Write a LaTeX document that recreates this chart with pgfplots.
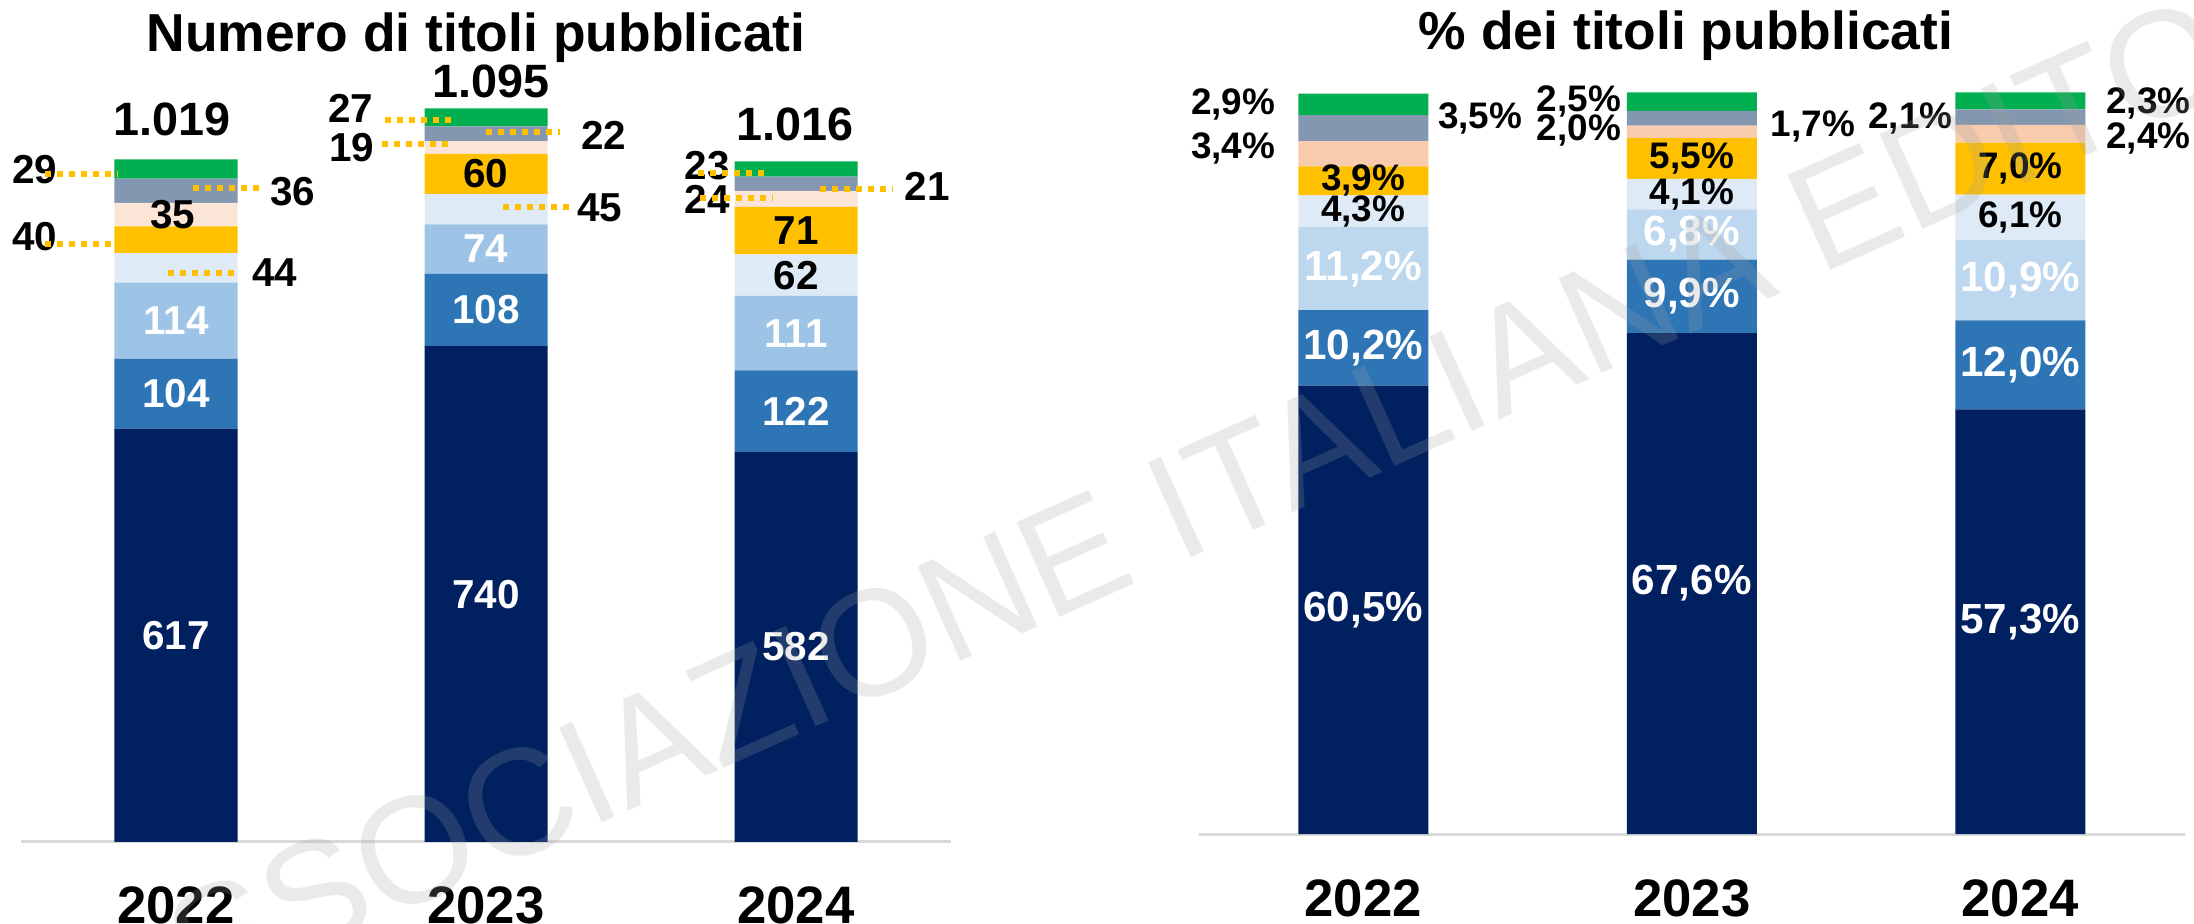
\documentclass[border=0pt]{standalone}
\usepackage{fontspec}
\setmainfont{Liberation Sans}
\usepackage{pgfplots}
\usepackage{pgfplotstable}
\pgfplotsset{compat=1.18}

\definecolor{cNavy}{HTML}{002060}
\definecolor{cMid}{HTML}{2E75B6}
\definecolor{cLight}{HTML}{9DC3E6}
\definecolor{cLightR}{HTML}{BDD7EE}
\definecolor{cPale}{HTML}{DEEBF7}
\definecolor{cGold}{HTML}{FFC000}
\definecolor{cPeach}{HTML}{FBE5D6}
\definecolor{cPeachR}{HTML}{F8CBAD}
\definecolor{cGrey}{HTML}{8497B0}
\definecolor{cGreen}{HTML}{00B050}
\definecolor{cAxis}{HTML}{D9D9D9}
\definecolor{wm}{RGB}{160,160,160}

\newcommand{\fL}{\fontsize{11.5}{13}\selectfont\bfseries}
\newcommand{\fT}{\fontsize{13.3}{15}\selectfont\bfseries}
\newcommand{\fBig}{\fontsize{12}{14}\selectfont\bfseries}
\newcommand{\fSm}{\fontsize{10.5}{12}\selectfont\bfseries}
\newcommand{\fY}{\fontsize{15}{17}\selectfont\bfseries}
\newcommand{\fTitle}{\fontsize{15.2}{18}\selectfont\bfseries}

% left chart: number of titles (dx, dy = label offset in reference pixels)
\pgfplotstableread{
x y lab dx dy
0 617 617 0 0
1 740 740 0 0
2 582 582 0 0
}\LnA
\pgfplotstableread{
x y lab dx dy
0 104 104 0 0
1 108 108 0 0
2 122 122 0 0
}\LnB
\pgfplotstableread{
x y lab dx dy
0 114 114 0 0
1 74 74 0 0
2 111 111 0 0
}\LnC
\pgfplotstableread{
x y lab dx dy
0 44 44 99 -5
1 45 45 114 1
2 62 62 0 0
}\LnD
\pgfplotstableread{
x y lab dx dy
0 40 40 -141 3
1 60 60 0 0
2 71 71 0 0
}\LnE
\pgfplotstableread{
x y lab dx dy
0 35 35 -3 0
1 19 19 -134 0
2 24 24 -89 -1
}\LnF
\pgfplotstableread{
x y lab dx dy
0 36 36 117 -1
1 22 22 118 -2
2 21 21 131 -3
}\LnG
\pgfplotstableread{
x y lab dx dy
0 29 29 -141 -1
1 27 27 -135 9
2 23 23 -89 3
}\LnH
\pgfplotstableread{
x y lab dx dy
0 1019 1.019 -4 40
1 1095 1.095 5 27
2 1016 1.016 -1 37
}\LnT

% right chart: share of titles (%)
\pgfplotstableread{
x y lab dx dy
0 60.5 60,5 0 0
1 67.6 67,6 0 0
2 57.3 57,3 0 0
}\RnA
\pgfplotstableread{
x y lab dx dy
0 10.2 10,2 0 0
1 9.9 9,9 0 0
2 12.0 12,0 0 0
}\RnB
\pgfplotstableread{
x y lab dx dy
0 11.2 11,2 0 0
1 6.8 6,8 0 0
2 10.9 10,9 0 0
}\RnC
\pgfplotstableread{
x y lab dx dy
0 4.3 4,3 0 0
1 4.1 4,1 0 0
2 6.1 6,1 0 0
}\RnD
\pgfplotstableread{
x y lab dx dy
0 3.9 3,9 0 0
1 5.5 5,5 0 0
2 7.0 7,0 0 0
}\RnE
\pgfplotstableread{
x y lab dx dy
0 3.4 3,4 -130 5
1 1.7 1,7 121 5
2 2.4 2,4 128 -5
}\RnF
\pgfplotstableread{
x y lab dx dy
0 3.5 3,5 117 10
1 2.0 2,0 -113 -12
2 2.1 2,1 -110 -1
}\RnG
\pgfplotstableread{
x y lab dx dy
0 2.9 2,9 -130 0
1 2.5 2,5 -113 0
2 2.3 2,3 128 -3
}\RnH

% one stacked series; its labels sit in the middle of each segment
\newcommand{\seg}[4]{%
  \addplot[fill=#2, draw=none,
    nodes near coords={\lbl{\pgfplotspointmeta}},
    point meta=explicit symbolic,
    visualization depends on={\thisrow{dx} \as \ddx},
    visualization depends on={\thisrow{dy} \as \ddy},
    nodes near coords style={text=#3, font=#4, anchor=center,
      xshift={\ddx*0.1mm}, yshift={\ddy*0.1mm}}]
  table[x=x, y=y, meta=lab] {#1};}

\pgfplotsset{
  twoyr/.style={
    ybar stacked, scale only axis, anchor=south west,
    xmin=-0.5, xmax=2.5, ymin=0, clip=false, enlargelimits=false,
    axis x line=bottom, hide y axis,
    x axis line style={draw=cAxis, line width=0.3mm, -},
    xtick={0,1,2}, xticklabels={2022,2023,2024},
    major tick length=0, xtick style={draw=none},
  },
}
\tikzset{leader/.style={draw=cGold, line width=0.55mm, dash pattern=on 0.6mm off 0.6mm}}

\begin{document}
\begin{tikzpicture}
\useasboundingbox (0,0) rectangle (219.4mm,92.4mm);
\def\lbl#1{#1}
\begin{axis}[twoyr, at={(2.1mm,8.2mm)}, x=31mm, y=0.067mm, ymax=1150,
  bar width=12.3mm,
  xticklabel style={font=\fY, anchor=center, yshift=-6.3mm}]
\seg{\LnA}{cNavy}{white}{\fL}
\seg{\LnB}{cMid}{white}{\fL}
\seg{\LnC}{cLight}{white}{\fL}
\seg{\LnD}{cPale}{black}{\fL}
\seg{\LnE}{cGold}{black}{\fL}
\seg{\LnF}{cPeach}{black}{\fL}
\seg{\LnG}{cGrey}{black}{\fL}
\seg{\LnH}{cGreen}{black}{\fL}
\end{axis}
% totals and leader lines, on an overlay axis with the same geometry
\begin{axis}[at={(2.1mm,8.2mm)}, anchor=south west, scale only axis,
  x=31mm, y=0.067mm, xmin=-0.5, xmax=2.5, ymin=0, ymax=1150,
  hide axis, clip=false]
\addplot[draw=none, mark=none, nodes near coords, point meta=explicit symbolic,
  visualization depends on={\thisrow{dx} \as \ddx},
  visualization depends on={\thisrow{dy} \as \ddy},
  nodes near coords style={font=\fT, anchor=center,
    xshift={\ddx*0.1mm}, yshift={\ddy*0.1mm}}]
  table[x=x, y=y, meta=lab] {\LnT};
\draw[leader] (-0.423,997) -- (-0.187,997);
\draw[leader] (-0.423,892.5) -- (-0.206,892.5);
\draw[leader] (-0.026,849) -- (0.206,849);
\draw[leader] (0.055,976) -- (0.287,976);
\draw[leader] (0.674,1077.6) -- (0.906,1077.6);
\draw[leader] (0.665,1041.8) -- (0.897,1041.8);
\draw[leader] (1.0,1059.7) -- (1.239,1059.7);
\draw[leader] (1.055,947.8) -- (1.287,947.8);
\draw[leader] (1.684,998.5) -- (1.916,998.5);
\draw[leader] (1.690,961.2) -- (1.923,961.2);
\draw[leader] (2.077,974.6) -- (2.310,974.6);
\end{axis}
\node[font=\fTitle, anchor=base] at (47.6mm,87.2mm) {Numero di titoli pubblicati};

\def\lbl#1{#1\%}
\begin{axis}[twoyr, at={(119.9mm,9.0mm)}, x=32.85mm, y=0.741mm, ymax=105,
  bar width=13mm,
  xticklabel style={font=\fY, anchor=center, yshift=-6.4mm}]
\seg{\RnA}{cNavy}{white}{\fBig}
\seg{\RnB}{cMid}{white}{\fBig}
\seg{\RnC}{cLightR}{white}{\fBig}
\seg{\RnD}{cPale}{black}{\fSm}
\seg{\RnE}{cGold}{black}{\fSm}
\seg{\RnF}{cPeachR}{black}{\fSm}
\seg{\RnG}{cGrey}{black}{\fSm}
\seg{\RnH}{cGreen}{black}{\fSm}
\end{axis}
\node[font=\fTitle, anchor=base] at (168.6mm,87.4mm) {\% dei titoli pubblicati};

\node[rotate=24.2, text=wm, text opacity=0.22, font=\fontsize{43}{47}\selectfont]
  at (122mm,43.6mm) {ASSOCIAZIONE ITALIANA EDITORI};
\end{tikzpicture}
\end{document}
